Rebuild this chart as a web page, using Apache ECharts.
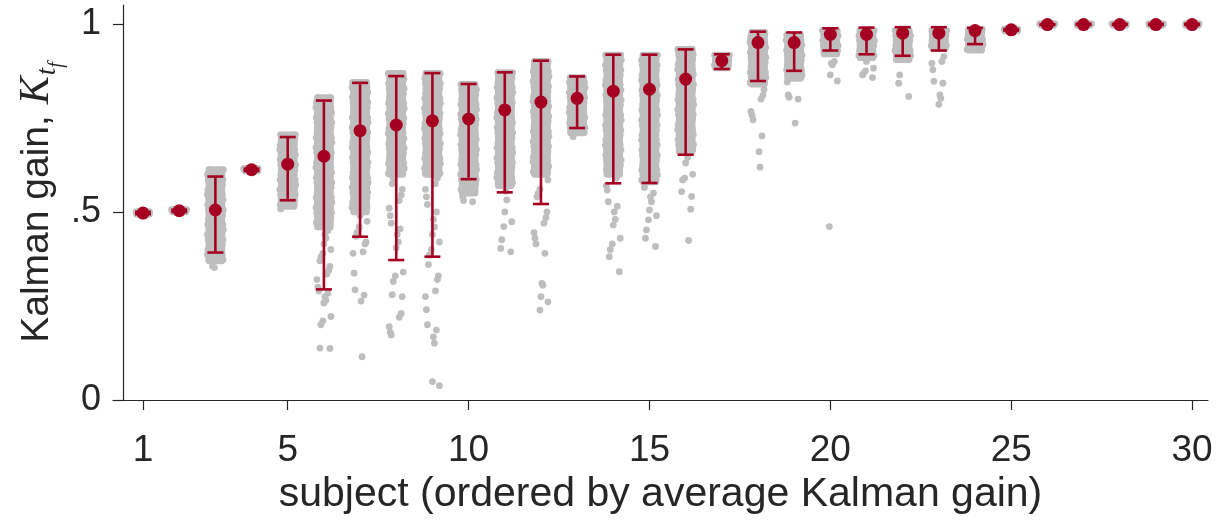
<!DOCTYPE html>
<html>
<head>
<meta charset="utf-8">
<script src="https://cdn.jsdelivr.net/npm/echarts@6/dist/echarts.min.js"></script>
<style>
  html, body { margin: 0; padding: 0; background: #ffffff; }
  #chart { width: 1218px; height: 521px; }
</style>
</head>
<body>
<div id="chart"></div>
<script>
// Subjects, ordered by average Kalman gain
const subjects = [1, 2, 3, 4, 5, 6, 7, 8, 9, 10, 11, 12, 13, 14, 15,
                  16, 17, 18, 19, 20, 21, 22, 23, 24, 25, 26, 27, 28, 29, 30];

// Mean Kalman gain per subject and its error-bar limits
const meanGain = [0.497, 0.503, 0.505, 0.612, 0.627, 0.648, 0.716, 0.731, 0.742, 0.747,
                  0.771, 0.792, 0.802, 0.821, 0.826, 0.853, 0.902, 0.950, 0.950, 0.972,
                  0.972, 0.975, 0.975, 0.982, 0.984, 0.998, 0.998, 0.998, 0.998, 0.998];
const barLow   = [0.494, 0.500, 0.392, 0.609, 0.531, 0.294, 0.434, 0.372, 0.381, 0.587,
                  0.552, 0.521, 0.723, 0.576, 0.577, 0.652, 0.880, 0.848, 0.875, 0.929,
                  0.919, 0.915, 0.929, 0.946, 0.982, 0.997, 0.997, 0.997, 0.997, 0.997];
const barHigh  = [0.500, 0.506, 0.594, 0.615, 0.699, 0.796, 0.843, 0.861, 0.869, 0.840,
                  0.871, 0.902, 0.860, 0.918, 0.918, 0.932, 0.919, 0.979, 0.977, 0.988,
                  0.990, 0.991, 0.991, 0.989, 0.986, 0.999, 1.000, 1.000, 1.000, 1.000];

// Range covered densely by the per-trial gains of each subject
const denseLow  = [0.494, 0.500, 0.370, 0.609, 0.515, 0.460, 0.500, 0.600, 0.600, 0.550,
                   0.570, 0.600, 0.710, 0.600, 0.580, 0.660, 0.883, 0.840, 0.855, 0.920,
                   0.910, 0.905, 0.935, 0.930, 0.981, 0.996, 0.996, 0.996, 0.996, 0.996];
const denseHigh = [0.500, 0.506, 0.612, 0.615, 0.705, 0.804, 0.844, 0.868, 0.868, 0.839,
                   0.870, 0.900, 0.857, 0.917, 0.917, 0.932, 0.917, 0.977, 0.970, 0.982,
                   0.982, 0.982, 0.982, 0.985, 0.986, 1.000, 1.000, 1.000, 1.000, 1.000];

// Individual trial gains lying outside the dense range
const sparseTrials = [
  [],
  [],
  [0.352, 0.356],
  [],
  [0.508],
  [0.45, 0.44, 0.43, 0.415, 0.40, 0.39, 0.38, 0.37, 0.355, 0.345, 0.335, 0.32, 0.30, 0.29,
   0.284, 0.275, 0.265, 0.258, 0.222, 0.21, 0.20, 0.138, 0.137],
  [0.49, 0.475, 0.46, 0.445, 0.435, 0.42, 0.415, 0.394, 0.39, 0.337, 0.293, 0.279, 0.263, 0.115],
  [0.59, 0.575, 0.56, 0.545, 0.53, 0.51, 0.49, 0.47, 0.455, 0.44, 0.42, 0.405, 0.34, 0.33,
   0.315, 0.28, 0.275, 0.23, 0.22, 0.195, 0.18, 0.173],
  [0.59, 0.575, 0.56, 0.54, 0.52, 0.50, 0.48, 0.46, 0.44, 0.42, 0.40, 0.385, 0.36, 0.33,
   0.32, 0.29, 0.275, 0.24, 0.20, 0.186, 0.168, 0.151, 0.049, 0.038],
  [0.54, 0.53, 0.527],
  [0.555, 0.532, 0.50, 0.474, 0.461, 0.426, 0.403, 0.394],
  [0.585, 0.56, 0.548, 0.54, 0.50, 0.485, 0.47, 0.445, 0.43, 0.415, 0.39, 0.31, 0.305,
   0.275, 0.261, 0.239],
  [0.70],
  [0.59, 0.57, 0.558, 0.527, 0.515, 0.50, 0.48, 0.465, 0.43, 0.415, 0.40, 0.381, 0.341],
  [0.565, 0.55, 0.54, 0.527, 0.505, 0.49, 0.479, 0.452, 0.43, 0.408],
  [0.645, 0.63, 0.60, 0.59, 0.585, 0.554, 0.541, 0.507, 0.424],
  [],
  [0.825, 0.81, 0.80, 0.767, 0.757, 0.745, 0.702, 0.66, 0.619],
  [0.845, 0.811, 0.805, 0.80, 0.736],
  [0.90, 0.895, 0.891, 0.864, 0.848, 0.461],
  [0.90, 0.882, 0.875, 0.868, 0.864, 0.857],
  [0.864, 0.842, 0.807],
  [0.913, 0.90, 0.895, 0.878, 0.847, 0.842, 0.811, 0.802, 0.786],
  [], [], [], [], [], [], []
];

// Axis tick values and their labels
const xTicks = [1, 5, 10, 15, 20, 25, 30];
const yTicks = [0, 0.5, 1];
const yTickLabels = {0: '0', 0.5: '.5', 1: '1'};

// ---- styling / layout ----
const RED = '#a50021';
const GRAY = '#bebebe';
const INK = '#262626';
const SANS = 'Liberation Sans, Arial, sans-serif';
const SERIF = 'Liberation Serif, Times New Roman, serif';
const DOT_R = 3.4;              // radius of one trial marker (px)
const STRIP_HALF = 0.19;        // half width of a subject's strip (x units)
const JITTER_PX = [-5, 2, -1, 6, -7, 4, 0, -3, 5, -6, 1, 7, -4, 3];
const EDGE_WOBBLE = [0, 0.8, -0.5, 1.0, 0.3, -0.7, 0.6, 1.1, -0.3, 0.7, 0.1, -0.6];

const denseData = subjects.map((s, i) => [s, denseLow[i], denseHigh[i]]);
const barData = subjects.map((s, i) => [s, barLow[i], barHigh[i]]);
const meanData = subjects.map((s, i) => [s, meanGain[i]]);
const sparseData = [];
subjects.forEach((s, i) => {
  sparseTrials[i].forEach((v, k) => {
    sparseData.push({ value: [s, v], symbolOffset: [JITTER_PX[(k * 5 + i) % JITTER_PX.length], 0] });
  });
});

const chart = echarts.init(document.getElementById('chart'), null, { renderer: 'canvas' });

chart.setOption({
  animation: false,
  backgroundColor: '#ffffff',
  grid: { left: 113, right: 10, top: 5, bottom: 121, containLabel: false },
  xAxis: {
    type: 'value',
    min: 0.17,
    max: 30.44,
    name: 'subject (ordered by average Kalman gain)',
    nameLocation: 'middle',
    nameGap: 71,
    nameTextStyle: { fontFamily: SANS, fontSize: 41, color: INK },
    axisLine: { show: true, onZero: false, lineStyle: { color: INK, width: 1.2 } },
    axisTick: { show: true, inside: false, length: 10, customValues: xTicks,
                lineStyle: { color: INK, width: 1.2 } },
    axisLabel: { show: true, customValues: xTicks, margin: 32,
                 fontFamily: SANS, fontSize: 37, color: INK },
    splitLine: { show: false }
  },
  yAxis: {
    type: 'value',
    min: 0,
    max: 1.05,
    offset: -10,
    name: '{a|Kalman gain, }{k|K}{t|t}{f|f}',
    nameLocation: 'middle',
    nameRotate: 90,
    nameGap: 62,
    nameMoveOverlap: false,
    nameTextStyle: {
      color: INK,
      rich: {
        a: { fontFamily: SANS, fontSize: 39, color: INK, lineHeight: 48, verticalAlign: 'middle' },
        k: { fontFamily: SERIF, fontStyle: 'italic', fontSize: 42, color: INK, lineHeight: 48, verticalAlign: 'middle' },
        t: { fontFamily: SERIF, fontStyle: 'italic', fontSize: 27, color: INK, lineHeight: 24, verticalAlign: 'bottom', padding: [0, 0, 0, 1] },
        f: { fontFamily: SERIF, fontStyle: 'italic', fontSize: 20, color: INK, lineHeight: 14, verticalAlign: 'bottom', padding: [0, 0, -6, 0] }
      }
    },
    axisLine: { show: true, lineStyle: { color: INK, width: 1.2 } },
    axisTick: { show: true, inside: false, length: 10, customValues: yTicks,
                lineStyle: { color: INK, width: 1.2 } },
    axisLabel: { show: true, customValues: yTicks, margin: 22,
                 fontFamily: SANS, fontSize: 36, color: INK,
                 formatter: v => yTickLabels[v] },
    splitLine: { show: false }
  },
  series: [
    {
      // dense core of each subject's trial gains
      type: 'custom',
      name: 'dense',
      z: 1,
      silent: true,
      data: denseData,
      renderItem: function (params, api) {
        const x = api.value(0), lo = api.value(1), hi = api.value(2);
        const top = api.coord([x, hi]);
        const bot = api.coord([x, lo]);
        const half = api.size([STRIP_HALF, 0])[0];
        const cx = top[0];
        const children = [{
          type: 'rect',
          shape: { x: cx - half - DOT_R + 0.5, y: top[1] - DOT_R, width: 2 * (half + DOT_R - 0.5),
                   height: bot[1] - top[1] + 2 * DOT_R, r: DOT_R },
          style: { fill: GRAY }
        }];
        let k = params.dataIndex;
        for (let yy = top[1]; yy <= bot[1] + 0.01; yy += 5) {
          const wl = EDGE_WOBBLE[k % EDGE_WOBBLE.length];
          const wr = EDGE_WOBBLE[(k + 5) % EDGE_WOBBLE.length];
          children.push({ type: 'circle', shape: { cx: cx - half - wl, cy: yy, r: DOT_R }, style: { fill: GRAY } });
          children.push({ type: 'circle', shape: { cx: cx + half + wr, cy: yy, r: DOT_R }, style: { fill: GRAY } });
          k++;
        }
        return { type: 'group', children: children };
      }
    },
    {
      // individual trials outside the dense core
      type: 'scatter',
      name: 'trials',
      z: 2,
      silent: true,
      symbol: 'circle',
      symbolSize: 2 * DOT_R,
      itemStyle: { color: GRAY, opacity: 1 },
      data: sparseData
    },
    {
      // error bars
      type: 'custom',
      name: 'errorbars',
      z: 3,
      silent: true,
      data: barData,
      renderItem: function (params, api) {
        const x = api.value(0);
        const lo = api.coord([x, api.value(1)]);
        const hi = api.coord([x, api.value(2)]);
        const cap = 8;
        const style = { stroke: RED, lineWidth: 2.6, fill: null };
        return {
          type: 'group',
          children: [
            { type: 'line', shape: { x1: lo[0], y1: lo[1], x2: hi[0], y2: hi[1] }, style: style },
            { type: 'line', shape: { x1: lo[0] - cap, y1: lo[1], x2: lo[0] + cap, y2: lo[1] }, style: style },
            { type: 'line', shape: { x1: hi[0] - cap, y1: hi[1], x2: hi[0] + cap, y2: hi[1] }, style: style }
          ]
        };
      }
    },
    {
      // subject means
      type: 'scatter',
      name: 'mean',
      z: 4,
      silent: true,
      symbol: 'circle',
      symbolSize: 13,
      itemStyle: { color: RED, opacity: 1 },
      data: meanData
    }
  ]
});
</script>
</body>
</html>
